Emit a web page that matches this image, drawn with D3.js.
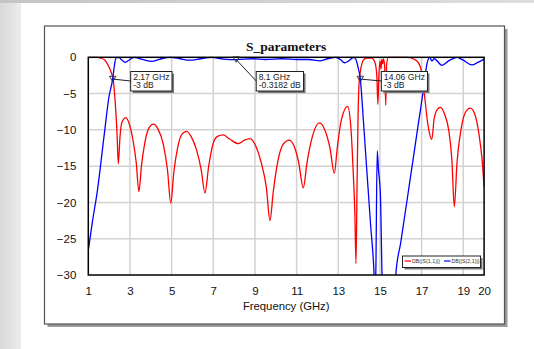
<!DOCTYPE html>
<html>
<head>
<meta charset="utf-8">
<script src="https://cdn.jsdelivr.net/npm/d3@7"></script>
<style>
  html, body { margin: 0; padding: 0; background: #fff; }
  svg { display: block; }
</style>
</head>
<body>
<div id="chart"></div>
<script>
// S11 (red)
const s11Freq = [1.0, 1.4, 1.6, 1.8, 1.95, 2.1, 2.2, 2.3, 2.38, 2.44, 2.52, 2.62, 2.8, 2.98, 3.15, 3.3, 3.43, 3.55, 3.7, 3.9,
  4.12, 4.35, 4.6, 4.8, 4.96, 5.1, 5.3, 5.5, 5.72, 5.95, 6.2, 6.42, 6.6, 6.78, 6.98, 7.2, 7.48, 7.8, 8.2, 8.5,
  8.76, 9.05, 9.3, 9.55, 9.72, 9.88, 10.1, 10.35, 10.65, 10.9, 11.1, 11.32, 11.5, 11.75, 12.09, 12.35, 12.6, 12.81, 12.95, 13.15,
  13.45, 13.6, 13.72, 13.8, 13.85, 13.9, 13.95, 14.0, 14.1, 14.2, 14.35, 14.6, 14.75, 14.85, 14.9, 14.95, 15.0, 15.05, 15.09, 15.13,
  15.17, 15.23, 15.28, 15.32, 15.4, 16.3, 16.6, 16.8, 16.95, 17.05, 17.15, 17.3, 17.49, 17.6, 17.75, 17.9, 18.1, 18.3, 18.45, 18.57,
  18.7, 18.9, 19.1, 19.33, 19.55, 19.75, 19.9, 20.0];
const s11Db = [0, 0, -0.1, -0.4, -1.1, -2.1, -3.2, -6.5, -10.5, -14.7, -11, -8.9, -8.3, -9.3, -11.5, -14.5, -18.5, -15, -12, -9.8,
  -9.2, -9.9, -12, -15.5, -20.1, -16, -12.3, -10.6, -10.2, -11, -12.8, -15.5, -18.7, -15, -12, -10.9, -10.7, -11.3, -11.9, -11.4,
  -11.2, -12.3, -14.5, -18, -22.5, -18.5, -14.3, -12, -11.4, -12.4, -14.5, -18.0, -14.5, -11, -9.05, -10.0, -12.5, -16.0, -12.5, -8.6,
  -6.75, -9.5, -16, -22, -28.4, -18, -8, -3.5, -1.3, -0.4, -0.1, -0.1, -0.6, -2.5, -6.5, -2.5, -0.5, -1.6, -0.3, -0.9,
  -0.2, -1.5, -6.6, -1, 0, 0, -0.2, -0.6, -1.4, -2.8, -5.5, -9.2, -11.3, -8.5, -7.2, -6.9, -7.8, -10, -14, -20.6,
  -14.5, -9.8, -7.6, -7.0, -7.8, -10.5, -14, -17.8];

// S21 (blue)
const s21Freq = [1.0, 1.2, 1.43, 1.75, 2.0, 2.17, 2.25, 2.33, 2.45, 2.62, 2.78, 2.95, 3.2, 3.6, 4.07, 4.5, 4.94, 5.4, 5.84, 6.4,
  6.9, 7.5, 8.1, 8.9, 9.5, 10.3, 11.0, 11.6, 12.1, 12.5, 12.87, 13.1, 13.3, 13.5, 13.75, 13.85, 13.95, 14.06, 14.2, 14.37,
  14.55, 14.72, 14.76, 14.8, 14.87, 14.93, 15.02, 15.1, 15.2, 15.7, 15.76, 16.0, 16.4, 16.8, 17.1, 17.25, 17.38, 17.5, 17.6, 17.98,
  18.3, 18.7, 19.0, 19.42, 19.7, 20.0];
const s21Db = [-26.6, -22.6, -18.5, -11, -5.3, -3.0, -1.2, -0.1, 0, -0.4, -0.7, -0.4, 0, -0.3, -0.55, -0.2, 0, -0.2, -0.4, -0.2,
  0, -0.25, -0.32, -0.2, -0.3, -0.2, -0.3, -0.3, -0.5, -0.2, 0, -0.3, -0.75, -0.5, 0, -0.3, -1.4, -3, -8.5, -15.6,
  -23, -30, -33, -30, -12.9, -15.5, -18.8, -30, -40, -40, -30, -25.5, -17.8, -10, -4.2, -1.0, 0, -0.5, -0.2, -1.1,
  -0.5, 0, -0.4, -1.05, -0.7, -0.25];

const xTicks = [1, 3, 5, 7, 9, 11, 13, 15, 17, 19, 20];
const xGrid = [3, 5, 7, 9, 11, 13, 15, 17, 19];
const yTicks = [0, -5, -10, -15, -20, -25, -30];

const markerFreq = [2.17, 8.1, 14.06];
const markerDb = [-3, -0.3182, -3];
const markerText = [["2.17 GHz", "-3 dB"], ["8.1 GHz", "-0.3182 dB"], ["14.06 GHz", "-3 dB"]];

const legendNames = ["DB(|S(1,1)|)", "DB(|S(2,1)|)"];
const colors = ["#ff0000", "#0000ff"];

const W = 534, H = 349;
const svg = d3.select("#chart").append("svg").attr("width", W).attr("height", H);

// page background bands
const defs = svg.append("defs");
const gl = defs.append("linearGradient").attr("id", "lg").attr("x1", 0).attr("x2", 1).attr("y1", 0).attr("y2", 0);
gl.append("stop").attr("offset", "0%").attr("stop-color", "#d9d9d9");
gl.append("stop").attr("offset", "100%").attr("stop-color", "#ececec");
const gt = defs.append("linearGradient").attr("id", "tg").attr("x1", 0).attr("x2", 1).attr("y1", 0).attr("y2", 0);
gt.append("stop").attr("offset", "0%").attr("stop-color", "#c4c4c4");
gt.append("stop").attr("offset", "100%").attr("stop-color", "#dedede");
svg.append("rect").attr("x", 0).attr("y", 0).attr("width", 21).attr("height", H).attr("fill", "url(#lg)");
svg.append("rect").attr("x", 0).attr("y", 0).attr("width", W).attr("height", 3).attr("fill", "url(#tg)");

// outer frame with shadow
svg.append("rect").attr("x", 47.5).attr("y", 29).attr("width", 460).attr("height", 298).attr("fill", "#9a9a9a");
svg.append("rect").attr("x", 44.5).attr("y", 26).attr("width", 460).attr("height", 298)
  .attr("fill", "#fff").attr("stroke", "#555").attr("stroke-width", 1.2);

const x = d3.scaleLinear().domain([1, 20]).range([88.3, 484.1]);
const y = d3.scaleLinear().domain([-30, 0]).range([275, 57.3]);

// grid
svg.append("g").selectAll("line").data(xGrid).join("line")
  .attr("x1", d => x(d)).attr("x2", d => x(d)).attr("y1", y(0)).attr("y2", y(-30))
  .attr("stroke", "#d2d2d2").attr("stroke-width", 1.5);
svg.append("g").selectAll("line").data(yTicks.filter(d => d !== 0 && d !== -30)).join("line")
  .attr("x1", x(1)).attr("x2", x(20)).attr("y1", d => y(d)).attr("y2", d => y(d))
  .attr("stroke", "#d2d2d2").attr("stroke-width", 1.5);

// axes labels
const font = "'Liberation Sans', Arial, sans-serif";
const xAxis = svg.append("g").attr("transform", `translate(0,${y(-30)})`)
  .call(d3.axisBottom(x).tickValues(xTicks).tickSize(0).tickPadding(12).tickFormat(d3.format("d")));
const yAxis = svg.append("g").attr("transform", `translate(${x(1)},0)`)
  .call(d3.axisLeft(y).tickValues(yTicks).tickSize(0).tickPadding(12).tickFormat(d3.format("d")));
[xAxis, yAxis].forEach(a => {
  a.select(".domain").remove();
  a.selectAll("text").attr("font-family", font).attr("font-size", 11.5).attr("fill", "#111");
});

// curves
svg.append("clipPath").attr("id", "clip").append("rect")
  .attr("x", x(1)).attr("y", y(0) - 1).attr("width", x(20) - x(1)).attr("height", y(-30) - y(0) + 1);
const line = d3.line().x(d => x(d[0])).y(d => y(d[1])).curve(d3.curveMonotoneX);
const plot = svg.append("g").attr("clip-path", "url(#clip)");
plot.append("path").datum(d3.zip(s11Freq, s11Db)).attr("d", line)
  .attr("fill", "none").attr("stroke", colors[0]).attr("stroke-width", 1.3);
plot.append("path").datum(d3.zip(s21Freq, s21Db)).attr("d", line)
  .attr("fill", "none").attr("stroke", colors[1]).attr("stroke-width", 1.3);

// plot border
svg.append("rect").attr("x", x(1)).attr("y", y(0)).attr("width", x(20) - x(1)).attr("height", y(-30) - y(0))
  .attr("fill", "none").attr("stroke", "#000").attr("stroke-width", 1.5);

// markers with label boxes
const offsets = [18, 20, 21];
markerFreq.forEach((f, i) => {
  const mx = x(f), my = y(markerDb[i]);
  const bx = mx + offsets[i], by = 71.5;
  const g = svg.append("g");
  const t = g.append("text").attr("font-family", font).attr("font-size", 8.6).attr("fill", "#222");
  markerText[i].forEach((s, k) => t.append("tspan").attr("x", bx + 2.5).attr("y", by + 8 + k * 8.5).text(s));
  const bw = t.node().getBBox().width + 5;
  g.insert("rect", "text").attr("x", bx + 2).attr("y", by + 2).attr("width", bw).attr("height", 19.5).attr("fill", "#777");
  g.insert("rect", "text").attr("x", bx).attr("y", by).attr("width", bw).attr("height", 19.5)
    .attr("fill", "#fff").attr("stroke", "#222").attr("stroke-width", 1);
  svg.append("line").attr("x1", mx).attr("y1", my).attr("x2", bx).attr("y2", by + 9.5)
    .attr("stroke", "#222").attr("stroke-width", 1);
  svg.append("path").attr("d", `M${mx - 3.2},${my - 2.8}L${mx + 3.2},${my - 2.8}L${mx},${my + 2.6}Z`)
    .attr("fill", "none").attr("stroke", "#333").attr("stroke-width", 1);
});

// legend
const lg = svg.append("g");
lg.append("rect").attr("x", 404.5).attr("y", 258).attr("width", 78).attr("height", 11.5).attr("fill", "#777");
lg.append("rect").attr("x", 402.5).attr("y", 256).attr("width", 78).attr("height", 11.5)
  .attr("fill", "#fff").attr("stroke", "#222").attr("stroke-width", 1);
legendNames.forEach((n, i) => {
  const lx = 404.5 + i * 39.5;
  lg.append("line").attr("x1", lx).attr("x2", lx + 6.5).attr("y1", 261).attr("y2", 261)
    .attr("stroke", colors[i]).attr("stroke-width", 1.2);
  lg.append("text").attr("x", lx + 7.5).attr("y", 262.8).attr("font-family", font).attr("font-size", 5.3)
    .attr("fill", "#333").text(n);
});

// titles
svg.append("text").attr("x", 286.2).attr("y", 50.5).attr("text-anchor", "middle")
  .attr("font-family", "'Liberation Serif', 'Times New Roman', serif").attr("font-weight", "bold")
  .attr("font-size", 13.5).attr("fill", "#111").text("S_parameters");
svg.append("text").attr("x", 286.2).attr("y", 310).attr("text-anchor", "middle")
  .attr("font-family", font).attr("font-size", 11.3).attr("fill", "#111").text("Frequency (GHz)");
</script>
</body>
</html>
